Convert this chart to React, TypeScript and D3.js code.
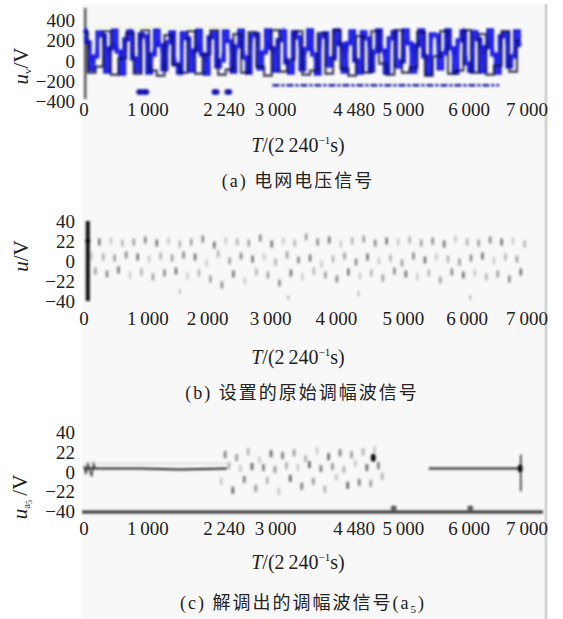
import React from 'react';
import { curveStep, line, scaleLinear } from 'd3';

// tick values / labels
const xTicksGrid = [0, 1000, 2240, 3000, 4480, 5000, 6000, 7000];
const xTicksAm = [0, 1000, 2000, 3000, 4000, 5000, 6000, 7000];
const yTicksGrid = [400, 200, 0, -200, -400];
const yTicksAm = [40, 20, 0, -20, -40];
const yLabelsAm = ['40', '22', '0', '−22', '−40'];

// (a) grid voltage, blue trace sampled every 60 units of T
const gridStep = 60;
const gridBlue = [
  300, 180, -90, 40, 280, 250, -110, 120, 300, 90, -130, 210, 290, 20, -100, 260, 240, -120, 60, 300,
  150, -90, 180, 280, -40, -120, 270, 220, -100, 100, 300, 60, -130, 230, 270, -60, 0, 290, 190, -110,
  140, 300, 30, -120, 250, 260, -80, 80, 300, 120, -100, 200, 290, -20, -120, 280, 230, -90, 110, 300,
  60, -130, 240, 270, -50, 20, 300, 160, -110, 170, 290, 0, -120, 280, 220, -100, 90, 300, 100, -120,
  220, 280, -60, -10, 300, 170, -110, 150, 300, 40, -130, 260, 250, -80, 70, 300, 120, -120, 200, 290,
  -30, -100, 280, 210, -110, 130, 300, 60, -120, 240, 270, -60, 40, 290, 150,
];
// black trace, every 120 units
const gridBlackStep = 120;
const gridBlack = [
  280, -120, -60, 290, -140, 20, 270, -130, 300, -100, -150, 250, -40, -120, 290, -130, 60, 300, -140, -90,
  260, -120, 280, -60, -150, 300, -110, 10, 290, -140, -100, 270, -130, 300, -80, -150, 240, -120, 290, -30,
  -140, 300, -120, -70, 280, -150, 40, 290, -130, -100, 300, -120, 260, -140, -50, 290, -110, 200,
];
const gridSpike: [number, number][] = [[20, 520], [20, -380]];
const gridDrops: [number, number][] = [[880, -310], [960, -310], [2060, -310], [2260, -310]];
const gridDashed: [number, number][] = [[2950, -245], [6500, -245]];
const gridRef: [number, number][] = [[0, 330], [2600, 330]];

// (b) AM wave as sampled, every 60 units from T = 120
const amStart = 120;
const amStep = 60;
const amValues = [
  5, -10, 19, 4, -13, 20, 3, -9, 18, 6, -14, 19, 4, -11, 21, 2, -16, 18, 5, -12,
  20, 3, -10, 17, 6, -15, 19, 4, -12, 22, -2, -18, 16, 7, -24, 20, 0, -13, 19, 5,
  -20, 18, 2, -11, 23, 4, -14, 17, -1, -22, 20, 6, -12, 18, 1, -16, 24, 3, -10, 19,
  -3, -14, 21, 2, -18, 17, 5, -11, 20, -1, -15, 22, 4, -12, 18, 0, -17, 20, 3, -10,
  19, -2, -13, 21, 5, -16, 18, 1, -12, 20, 4, -19, 17, 2, -11, 22, -1, -14, 19, 3,
  -12, 18, 5, -16, 21, 0, -13, 19, 4, -18, 20, 2, -11, 17,
];
const amSpike: [number, number][] = [[60, 40], [60, -40]];
const amFaint: [number, number][] = [[1500, -31], [3200, -37], [4300, -33], [6050, -37]];

// (c) demodulated a5
const demodNoise: [number, number][] = [[0, 6], [30, -3], [60, 9], [90, 1], [120, -5], [150, 8], [180, 3]];
const demodFlat1: [number, number][] = [[0, 3], [300, 3], [900, 3], [1500, 2], [2240, 3]];
const demodHalo: [number, number][] = [[0, 8], [700, 8], [1400, 8], [2240, 8]];
const burstStart = 2150;
const burstStep = 60;
const burstValues = [
  -10, 17, 6, -19, 14, 3, -8, 20, 5, -17, 12, 4, -9, 18, 2, -20, 16, 6, -7, 19, 4, -15,
  13, 7, -10, 21, 3, -18, 15, 5, -6, 19, 2, -14, 17, 8, -11, 20, 4, -12, 22, 6, -5,
];
const demodFlat2: [number, number][] = [[5400, 3], [6000, 3], [6820, 3]];
const demodSpike: [number, number][] = [[6840, 17], [6840, -20]];
const demodBlobs: [number, number][] = [[4530, 14], [6830, 3]];
const demodLow: [number, number][] = [[4850, -37], [6050, -37]];

const W = 563;
const H = 619;
const serif = "'Liberation Serif', 'Times New Roman', serif";
const cjk = "'Liberation Serif', 'Noto Sans CJK SC', serif";

const x = scaleLinear().domain([0, 7000]).range([84, 531]);
const yA = scaleLinear().domain([-400, 400]).range([101, 20]);
const yB = scaleLinear().domain([-40, 40]).range([301, 221]);
const yC = scaleLinear().domain([-40, 40]).range([511, 432]);

const fmt = (v: number) =>
  v < 1000 ? String(v) : `${Math.floor(v / 1000)}\u2009${String(v % 1000).padStart(3, '0')}`;
const fmtY = (v: number) => (v < 0 ? `−${-v}` : String(v));

// small shifts the original used so labels don't collide
const nudgeGrid: Record<number, number> = { 2240: -3, 3000: 0, 4480: -16, 6000: 2, 7000: -4 };
const nudgeAm: Record<number, number> = { 2000: -4, 3000: -5, 4000: -3, 7000: -4 };

const XLabels = ({ ticks, y, nudge }: { ticks: number[]; y: number; nudge: Record<number, number> }) => (
  <g fontFamily={serif} fontSize={19} fill="#222" textAnchor="middle">
    {ticks.map((t) => (
      <text key={t} x={x(t) + (nudge[t] || 0)} y={y}>{fmt(t)}</text>
    ))}
  </g>
);

const YLabels = ({ ticks, labels, scale }: { ticks: number[]; labels: string[]; scale: (v: number) => number }) => (
  <g fontFamily={serif} fontSize={19} fill="#222" textAnchor="end">
    {ticks.map((t, i) => (
      <text key={t} x={75} y={scale(t) + 7}>{labels[i]}</text>
    ))}
  </g>
);

const XTitle = ({ y }: { y: number }) => (
  <text x={298} y={y} fontFamily={serif} fontSize={20} fill="#222" textAnchor="middle">
    <tspan fontStyle="italic">T</tspan>/(2{'\u2009'}240
    <tspan fontSize={11} dy={-8}>−1</tspan>
    <tspan dy={8}>s)</tspan>
  </text>
);

export default function App() {
  const lineA = line<[number, number]>().x((d) => x(d[0])).y((d) => yA(d[1]));
  const stepA = line<[number, number]>().x((d) => x(d[0])).y((d) => yA(d[1])).curve(curveStep);
  const lineB = line<[number, number]>().x((d) => x(d[0])).y((d) => yB(d[1]));
  const lineC = line<[number, number]>().x((d) => x(d[0])).y((d) => yC(d[1]));

  const bluePts = gridBlue.map((u, i) => [i * gridStep, u] as [number, number]);
  const blackPts = gridBlack.map((u, i) => [i * gridBlackStep, u] as [number, number]);
  const amPts = amValues.map((u, i) => [amStart + i * amStep, u] as [number, number]);
  const burstPts = burstValues.map((u, i) => [burstStart + i * burstStep, u] as [number, number]);

  return (
    <div>
      <style>{'body{margin:0}'}</style>
      <svg width={W} height={H} style={{ display: 'block', background: '#fff' }}>
        <defs>
          <filter id="soft" x="-5%" y="-5%" width="110%" height="110%">
            <feGaussianBlur stdDeviation={0.9} />
          </filter>
          <filter id="softer" x="-5%" y="-10%" width="110%" height="120%">
            <feGaussianBlur stdDeviation={1.1} />
          </filter>
        </defs>
        <rect x={82} y={4} width={464} height={H - 4} fill="#f8f8f8" />
        <line x1={546} x2={546} y1={4} y2={H} stroke="#d4d4d4" strokeWidth={3} />

        {/* (a) */}
        <g filter="url(#softer)">
          <path d={lineA(gridRef) || ''} fill="none" stroke="#dfe6a8" strokeWidth={1.5} strokeDasharray="2 3" />
          <path d={lineA(gridSpike) || ''} fill="none" stroke="#333" strokeWidth={2} />
          <path d={stepA(bluePts) || ''} fill="none" stroke="#1c1cdc" strokeWidth={4} />
          <path d={lineA(bluePts) || ''} fill="none" stroke="#2a2aee" strokeWidth={2.4} />
          <path d={stepA(blackPts) || ''} fill="none" stroke="#0b0b2a" strokeWidth={2.2} strokeOpacity={0.8} />
          <path d={lineA(gridDashed) || ''} fill="none" stroke="#1a1a9a" strokeWidth={2.5} strokeDasharray="7 2 3 2" />
          {gridDrops.map(([t, u]) => (
            <ellipse key={t} cx={x(t)} cy={yA(u)} rx={4} ry={3} fill="#1616b0" />
          ))}
        </g>
        <YLabels ticks={yTicksGrid} labels={yTicksGrid.map(fmtY)} scale={yA} />
        <XLabels ticks={xTicksGrid} y={116} nudge={nudgeGrid} />
        <XTitle y={152} />
        <text x={298} y={187} fontFamily={cjk} fontSize={18} fill="#222" textAnchor="middle" letterSpacing={2}>
          (a) 电网电压信号
        </text>
        <text transform="translate(28,66) rotate(-90)" fontFamily={serif} fontSize={21} fill="#222" textAnchor="middle">
          <tspan fontStyle="italic">u</tspan>
          <tspan fontSize={11} dy={3}>v</tspan>
          <tspan dy={-3}>/V</tspan>
        </text>

        {/* (b) */}
        <g filter="url(#soft)">
          <path d={lineB(amSpike) || ''} fill="none" stroke="#111" strokeWidth={4} />
          <circle cx={x(60)} cy={yB(20)} r={2.5} fill="#000" />
          {amPts.map(([t, u], i) => (
            <rect key={t} x={x(t) - 1.3} y={yB(u) - 3.5} width={2.6} height={7} fill="#444" opacity={0.25 + 0.12 * ((i * 7) % 5)} />
          ))}
          {amFaint.map(([t, u]) => (
            <rect key={t} x={x(t) - 1} y={yB(u) - 3} width={2} height={5} fill="#777" opacity={0.5} />
          ))}
        </g>
        <YLabels ticks={yTicksAm} labels={yLabelsAm} scale={yB} />
        <XLabels ticks={xTicksAm} y={325} nudge={nudgeAm} />
        <XTitle y={364} />
        <text x={302} y={399} fontFamily={cjk} fontSize={18} fill="#222" textAnchor="middle" letterSpacing={2}>
          (b) 设置的原始调幅波信号
        </text>
        <text transform="translate(28,256) rotate(-90)" fontFamily={serif} fontSize={21} fill="#222" textAnchor="middle">
          <tspan fontStyle="italic">u</tspan>/V
        </text>

        {/* (c) */}
        <g filter="url(#soft)">
          <line x1={82} x2={543} y1={yC(-40) + 1} y2={yC(-40) + 1} stroke="#333" strokeWidth={3} />
          <path d={lineC(demodHalo) || ''} fill="none" stroke="#ccc" strokeWidth={1} />
          <path d={lineC(demodNoise) || ''} fill="none" stroke="#444" strokeWidth={1.5} />
          <path d={lineC(demodFlat1) || ''} fill="none" stroke="#222" strokeWidth={2} />
          <path d={lineC(demodFlat2) || ''} fill="none" stroke="#222" strokeWidth={2} />
          <path d={lineC(demodSpike) || ''} fill="none" stroke="#222" strokeWidth={1.5} />
          {burstPts.map(([t, u], i) => (
            <rect key={t} x={x(t) - 1.4} y={yC(u) - 3.5} width={2.8} height={7} fill="#444" opacity={0.25 + 0.13 * ((i * 3) % 5)} />
          ))}
          {demodBlobs.map(([t, u]) => (
            <ellipse key={t} cx={x(t)} cy={yC(u)} rx={2.5} ry={4} fill="#111" />
          ))}
          {demodLow.map(([t, u]) => (
            <ellipse key={t} cx={x(t)} cy={yC(u)} rx={3} ry={2.5} fill="#555" />
          ))}
        </g>
        <YLabels ticks={yTicksAm} labels={yLabelsAm} scale={yC} />
        <XLabels ticks={xTicksGrid} y={535} nudge={nudgeGrid} />
        <XTitle y={569} />
        <text x={303} y={609} fontFamily={cjk} fontSize={18} fill="#222" textAnchor="middle" letterSpacing={2}>
          (c) 解调出的调幅波信号(a<tspan fontSize={11} dy={4}>5</tspan><tspan dy={-4}>)</tspan>
        </text>
        <text transform="translate(27,497) rotate(-90)" fontFamily={serif} fontSize={21} fill="#222" textAnchor="middle">
          <tspan fontStyle="italic">u</tspan>
          <tspan fontSize={11} dy={3}>a</tspan>
          <tspan fontSize={8} dy={2}>5</tspan>
          <tspan dy={-5}>{'\u2009'}/V</tspan>
        </text>
      </svg>
    </div>
  );
}
